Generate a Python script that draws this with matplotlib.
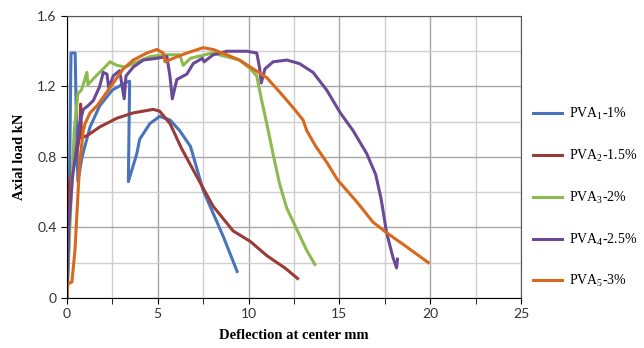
import numpy as np
import matplotlib
matplotlib.use("Agg")
import matplotlib.pyplot as plt
from matplotlib.ticker import MultipleLocator, FuncFormatter

# Values
pva1_x = [0, 0.1, 0.22, 0.45, 0.52, 0.6, 0.83, 1.27, 1.8, 2.5, 3.2, 3.45, 3.38, 3.85,
          4.0, 4.57, 5.1, 5.67, 6.2, 6.8, 7.5, 8.05, 8.6, 9.37]
pva1_y = [0, 0.3, 1.39, 1.39, 1.0, 0.66, 0.8, 0.97, 1.09, 1.18, 1.22, 1.23, 0.66, 0.82,
          0.9, 0.99, 1.03, 1.01, 0.95, 0.86, 0.61, 0.48, 0.35, 0.15]

pva2_x = [0, 0.05, 0.12, 0.5, 0.7, 0.75, 0.8, 1.1, 1.8, 2.75, 3.65, 4.75, 5.1, 5.67,
          6.3, 7.3, 8.05, 9.15, 10.1, 11.0, 12.0, 12.7]
pva2_y = [0, 0.3, 0.65, 0.8, 0.92, 1.1, 0.91, 0.92, 0.97, 1.02, 1.05, 1.07, 1.06, 0.99,
          0.85, 0.66, 0.52, 0.38, 0.32, 0.24, 0.17, 0.11]

pva3_x = [0, 0.2, 0.4, 0.6, 0.8, 1.1, 1.15, 1.6, 2.0, 2.37, 2.75, 3.2, 3.65, 4.57, 5.5,
          6.2, 6.4, 6.8, 8.0, 9.5, 10.1, 10.45, 10.7, 11.0, 11.3, 11.7, 12.1, 12.65,
          13.2, 13.65]
pva3_y = [0, 0.5, 0.95, 1.16, 1.18, 1.28, 1.21, 1.26, 1.3, 1.34, 1.32, 1.31, 1.33, 1.37,
          1.38, 1.38, 1.32, 1.36, 1.39, 1.35, 1.3, 1.26, 1.13, 0.99, 0.84, 0.65, 0.51,
          0.39, 0.27, 0.19]

pva4_x = [0, 0.1, 0.3, 0.7, 0.9, 1.15, 1.45, 1.8, 2.0, 2.2, 2.3, 2.55, 2.9, 3.15, 3.25,
          3.65, 4.2, 4.95, 5.5, 5.67, 5.8, 6.05, 6.6, 6.95, 7.45, 7.55, 8.05, 8.8, 9.9,
          10.45, 10.6, 10.7, 10.9, 11.35, 12.1, 12.8, 13.55, 14.3, 15.05, 15.75, 16.5,
          17.0, 17.3, 17.6, 17.95, 18.15, 18.2]
pva4_y = [0, 0.4, 0.68, 0.99, 1.07, 1.09, 1.12, 1.2, 1.28, 1.27, 1.19, 1.26, 1.29, 1.13,
          1.26, 1.31, 1.35, 1.36, 1.37, 1.26, 1.13, 1.24, 1.27, 1.33, 1.36, 1.34, 1.38,
          1.40, 1.40, 1.39, 1.31, 1.22, 1.30, 1.34, 1.35, 1.33, 1.28, 1.18, 1.05, 0.95,
          0.82, 0.7, 0.56, 0.37, 0.23, 0.17, 0.22]

pva5_x = [0, 0.05, 0.27, 0.44, 0.7, 0.9, 1.0, 1.27, 1.65, 2.0, 2.55, 3.1, 3.65, 4.4,
          4.95, 5.3, 5.4, 5.85, 6.6, 7.5, 8.05, 8.8, 9.5, 10.25, 11.0, 11.7, 12.45, 13.0,
          13.2, 13.7, 14.3, 14.9, 16.0, 16.85, 17.6, 18.7, 19.9]
pva5_y = [0, 0.08, 0.09, 0.27, 0.77, 0.95, 0.99, 1.05, 1.09, 1.14, 1.22, 1.30, 1.35, 1.39,
          1.41, 1.39, 1.34, 1.36, 1.39, 1.42, 1.41, 1.38, 1.35, 1.30, 1.25, 1.17, 1.08,
          1.01, 0.95, 0.86, 0.77, 0.67, 0.54, 0.43, 0.37, 0.29, 0.20]

labels = ["PVA$_{1}$-1%", "PVA$_{2}$-1.5%", "PVA$_{3}$-2%", "PVA$_{4}$-2.5%", "PVA$_{5}$-3%"]
colors = ["#4A74BA", "#9B3B38", "#8DBA4E", "#6A4A96", "#D9681E"]

plt.rcParams["mathtext.fontset"] = "custom"
plt.rcParams["mathtext.rm"] = "Liberation Serif"
plt.rcParams["mathtext.it"] = "Liberation Serif"

fig = plt.figure(figsize=(6.44, 3.48), dpi=100)
ax = fig.add_axes([0.104, 0.144, 0.705, 0.81])

series = [(pva1_x, pva1_y), (pva2_x, pva2_y), (pva3_x, pva3_y),
          (pva4_x, pva4_y), (pva5_x, pva5_y)]
for (xs, ys), lab, c in zip(series, labels, colors):
    ax.plot(xs, ys, color=c, lw=2.2, label=lab, solid_joinstyle="round")

ax.set_xlim(0, 25)
ax.set_ylim(0, 1.6)
ax.xaxis.set_major_locator(MultipleLocator(5))
ax.xaxis.set_minor_locator(MultipleLocator(2.5))
ax.yaxis.set_major_locator(MultipleLocator(0.4))
ax.yaxis.set_minor_locator(MultipleLocator(0.2))
ax.yaxis.set_major_formatter(FuncFormatter(lambda v, p: "0" if abs(v) < 1e-9 else "%.1f" % v))

ax.grid(True, which="major", color="#a8a8a8", lw=1.0)
ax.grid(True, which="minor", color="#cfcfcf", lw=1.0)
ax.set_axisbelow(True)
ax.tick_params(which="both", direction="out", length=4, color="black",
               labelsize=10, labelcolor="#333333")
ax.tick_params(axis="y", which="minor", length=0)
for lbl in ax.get_xticklabels() + ax.get_yticklabels():
    lbl.set_fontfamily("Lato")

for s in ["left", "bottom"]:
    ax.spines[s].set_color("black")
for s in ["top", "right"]:
    ax.spines[s].set_color("#555555")

ax.set_xlabel("Deflection at center mm", fontfamily="Liberation Serif",
              fontweight="bold", fontsize=10.5, labelpad=6)
ax.set_ylabel("Axial load kN", fontfamily="Liberation Serif",
              fontweight="bold", fontsize=10.5, labelpad=8)

leg = ax.legend(loc="upper left", bbox_to_anchor=(1.008, 0.71), frameon=False,
                prop={"family": "Liberation Serif", "size": 10},
                handlelength=2.1, labelspacing=1.85, handletextpad=0.5,
                borderaxespad=0.2)

fig.savefig("out.png", dpi=100)
